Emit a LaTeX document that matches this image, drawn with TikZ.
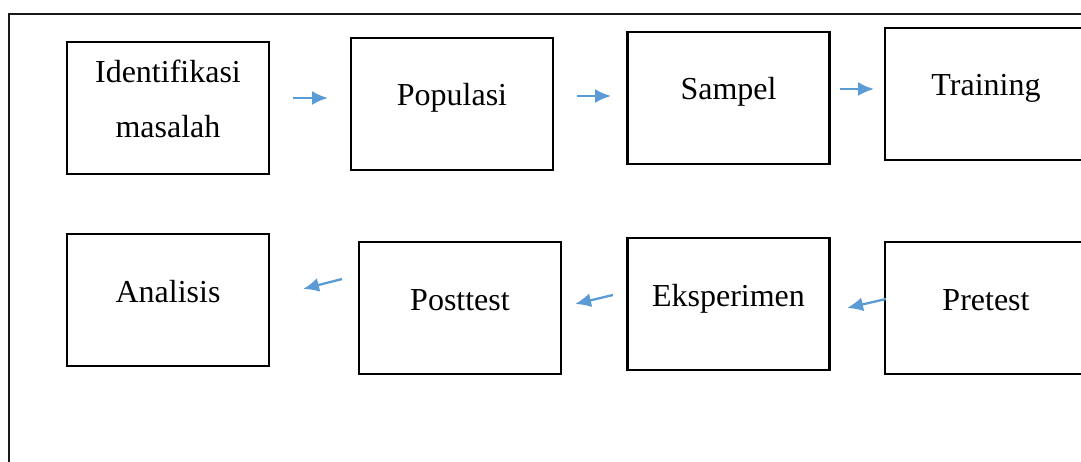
\documentclass[tikz,border=0pt]{standalone}
\usepackage{fontspec}
\setmainfont{Liberation Serif}
\usetikzlibrary{arrows.meta}
\definecolor{arrowblue}{HTML}{5B9BD5}
\tikzset{
  box/.style={draw=black, line width=2.8pt, minimum width=202pt, minimum height=132pt, inner sep=0pt},
  lbl/.style={font=\fontsize{32}{55}\selectfont, inner sep=0pt, anchor=base, align=center},
  flow/.style={draw=arrowblue, line width=2.3pt, -{Latex[length=16pt,width=14pt]}},
  frame/.style={draw=black!90, line width=2.2pt}
}
\begin{document}
\begin{tikzpicture}[x=1pt,y=-1pt]
\useasboundingbox (0,0) rectangle (1081,462);
\clip (0,0) rectangle (1081,462);
\draw[frame] (9,14) rectangle (1110,490);
% row 1
\node[box] (idf) at (168,108) {};
\node[box] (pop) at (452,104) {};
\node[box] (smp) at (728.5,98) {};
\node[box] (trn) at (986,94) {};
% row 2
\node[box] (ana) at (168,300) {};
\node[box] (pst) at (460,308) {};
\node[box] (eks) at (728.5,304) {};
\node[box] (pre) at (986,308) {};
% labels
\node[lbl] (tidf) at (168,83) {Identifikasi};
\node[lbl] (tidf2) at (168,138) {masalah};
\node[lbl] (tpop) at (452,106) {Populasi};
\node[lbl] (tsmp) at (728.5,100) {Sampel};
\node[lbl] (ttrn) at (986,96) {Training};
\node[lbl] (tana) at (168,302) {Analisis};
\node[lbl] (tpst) at (460,310) {Posttest};
\node[lbl] (teks) at (728.5,306) {Eksperimen};
\node[lbl] (tpre) at (986,310) {Pretest};
% arrow end points
\coordinate (a1s) at (293,98);  \coordinate (a1e) at (328,98);
\coordinate (a2s) at (577,96);  \coordinate (a2e) at (611,96);
\coordinate (a3s) at (840,89);  \coordinate (a3e) at (874,89);
\coordinate (a4s) at (886,299); \coordinate (a4e) at (847,308);
\coordinate (a5s) at (613,295); \coordinate (a5e) at (575,304);
\coordinate (a6s) at (342,279); \coordinate (a6e) at (303,289);
\draw[flow] (a1s) -- (a1e);
\draw[flow] (a2s) -- (a2e);
\draw[flow] (a3s) -- (a3e);
\draw[flow] (a4s) -- (a4e);
\draw[flow] (a5s) -- (a5e);
\draw[flow] (a6s) -- (a6e);
\end{tikzpicture}
\end{document}
